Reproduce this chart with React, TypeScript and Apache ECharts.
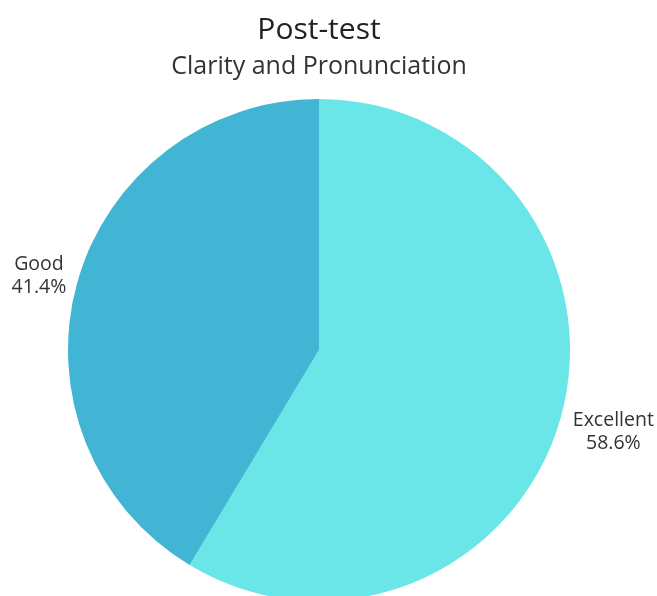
import React, { useEffect, useRef } from "react";
import * as echarts from "echarts";

const categories = ["Excellent", "Good"];
const values = [17, 12];
const colors = ["#6AE5E8", "#41B5D3"];
const titleText = "Post-test";
const subtitleText = "Clarity and Pronunciation";

export default function App() {
  const ref = useRef<HTMLDivElement>(null);
  useEffect(() => {
    if (!ref.current) return;
    const chart = echarts.init(ref.current, undefined, { renderer: "svg" });
    const lineStyle = {
      fontFamily: "Open Sans",
      fontSize: 19.5,
      lineHeight: 23,
      color: "#333",
      align: "center",
    };
    chart.setOption({
      animation: false,
      textStyle: { fontFamily: "Open Sans" },
      title: {
        text: titleText,
        subtext: subtitleText,
        left: 314,
        textAlign: "center",
        top: 7,
        itemGap: 9,
        textStyle: { fontFamily: "Open Sans", fontSize: 30, fontWeight: "normal", color: "#222" },
        subtextStyle: { fontFamily: "Open Sans", fontSize: 25, color: "#333" },
      },
      series: [
        {
          type: "pie",
          center: [319, 350],
          radius: 251,
          startAngle: 90,
          clockwise: true,
          color: colors,
          label: {
            show: true,
            position: "outside",
            formatter: (p: any) => `{a|${p.name}}\n{a|${p.percent.toFixed(1)}%}`,
            fontFamily: "Open Sans",
            fontSize: 19.5,
            lineHeight: 23,
            color: "#333",
            overflow: "none",
            rich: { a: lineStyle },
          },
          labelLine: { show: false, length: 4, length2: 0 },
          labelLayout: (p: any) => (p.dataIndex === 0 ? { dx: 5, dy: 12 } : { dx: -2, dy: -8 }),
          itemStyle: { borderWidth: 0 },
          emphasis: { disabled: true },
          data: categories.map((c, i) => ({ name: c, value: values[i] })),
        },
      ],
    });
    return () => chart.dispose();
  }, []);
  return <div ref={ref} style={{ position: "fixed", left: 0, top: 0, width: 657, height: 596 }} />;
}
